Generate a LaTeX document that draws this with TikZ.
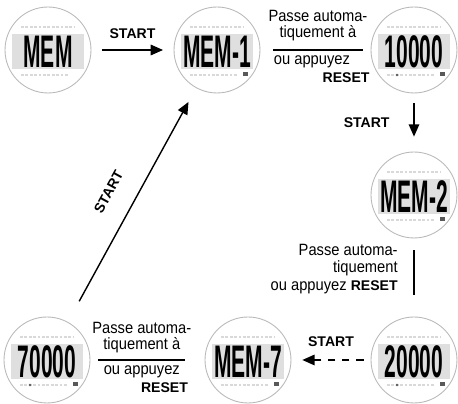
\documentclass[tikz,border=0pt]{standalone}
\usepackage{fontspec}
\setmainfont{Liberation Sans}
\newfontfamily\lcdfont[FakeStretch=0.46]{Liberation Sans}
\newfontfamily\narrowfont[FakeStretch=0.9]{Liberation Sans}
\usetikzlibrary{arrows.meta,positioning}

\tikzset{
  face/.style={circle,draw=gray!55,line width=0.5pt,minimum size=1.72cm,inner sep=0pt},
  lcd/.style={inner sep=0pt,font=\lcdfont\bfseries\fontsize{26}{26}\selectfont},
  lbl/.style={inner sep=0pt,align=center,font=\narrowfont\fontsize{9.3}{9}\selectfont},
  key/.style={inner sep=0pt,font=\bfseries\fontsize{8}{8}\selectfont},
  flow/.style={-{Triangle[length=7pt,width=6pt]},line width=0.8pt},
  link/.style={line width=0.6pt},
  icons/.style={gray!30,line width=1.4pt,dash pattern=on 1.6pt off 0.9pt}
}

\newcommand{\keyword}[1]{{\normalfont\bfseries\fontsize{8}{8}\selectfont #1}}

% watch face: name, centre, display reading
\newcommand{\watchface}[3]{
  \node[face] (#1) at (#2) {};
  \fill[gray!25] ([shift={(-36,-16)}]#1.center) rectangle ([shift={(36,19)}]#1.center);
  \draw[icons] ([shift={(-27,-23)}]#1.center) -- ([shift={(27,-23)}]#1.center);
  \draw[icons] ([shift={(-27,25)}]#1.center) -- ([shift={(20,25)}]#1.center);
  \node[lcd] (#1txt) at ([yshift=-1pt]#1.center) {#3};
}
\newcommand{\battery}[1]{\fill[black!65] ([shift={(26,22)}]#1.center) rectangle ([shift={(31,26)}]#1.center);}
\newcommand{\alarmdot}[1]{\fill[black!65] ([shift={(-17,25)}]#1.center) circle (1.4);}

\begin{document}
\begin{tikzpicture}[x=0.02cm,y=-0.02cm]
  \useasboundingbox (0,0) rectangle (458,404);

  \watchface{mem}{48,50}{MEM}
  \watchface{mem1}{217,50}{MEM-1}
  \watchface{n10000}{414,50}{10000}
  \watchface{mem2}{414,195}{MEM-2}
  \watchface{n20000}{414,360}{20000}
  \watchface{mem7}{248,360}{MEM-7}
  \watchface{n70000}{47,360}{70000}
  \foreach \w in {mem1,n10000,mem2,n20000,mem7,n70000} {\battery{\w}}
  \foreach \w in {n10000,n20000,n70000} {\alarmdot{\w}}

  % top row
  \draw[flow,shorten <=6pt,shorten >=6pt] (mem) -- (mem1) node[key,midway,above=6pt] {START};
  \draw[link,shorten <=7.4pt,shorten >=4.5pt] (mem1) -- (n10000)
    node[lbl,midway,above=5pt,xshift=1.4pt] {Passe automa-\\tiquement à}
    node[lbl,midway,below=3pt,xshift=-2pt] (ou1) {ou appuyez};
  \node[key,anchor=north east] (reset1) at ([xshift=11pt,yshift=-2pt]ou1.south east) {RESET};

  % right column
  \draw[flow,shorten <=5.7pt,shorten >=8.5pt] (n10000) -- (mem2) node[key,midway,left=13.5pt] {START};
  \draw[link,shorten <=6.8pt,shorten >=12.5pt] (mem2) -- (n20000);
  \node[lbl,align=right,anchor=east,font=\narrowfont\fontsize{9.3}{10}\selectfont] (auto2) at (398,269)
    {Passe automa-\\tiquement\hspace*{10pt}\\ou appuyez \keyword{RESET}};

  % bottom row
  \draw[flow,dash pattern=on 4.5pt off 3.5pt,shorten <=4pt,shorten >=6.2pt] (n20000) -- (mem7)
    node[key,midway,above=7pt] {START};
  \draw[link,shorten <=4.5pt,shorten >=11.3pt] (n70000) -- (mem7)
    node[lbl,pos=0.45,above=4pt] {Passe automa-\\tiquement à}
    node[lbl,pos=0.45,below=3pt] (ou7) {ou appuyez};
  \node[key,anchor=north east] (reset7) at ([xshift=4.5pt,yshift=-2pt]ou7.south east) {RESET};

  % back to the first memory
  \draw[flow,shorten <=13.4pt,shorten >=9pt] (n70000) -- (mem1) node[key,midway,sloped,above=12pt] {START};
\end{tikzpicture}
\end{document}
